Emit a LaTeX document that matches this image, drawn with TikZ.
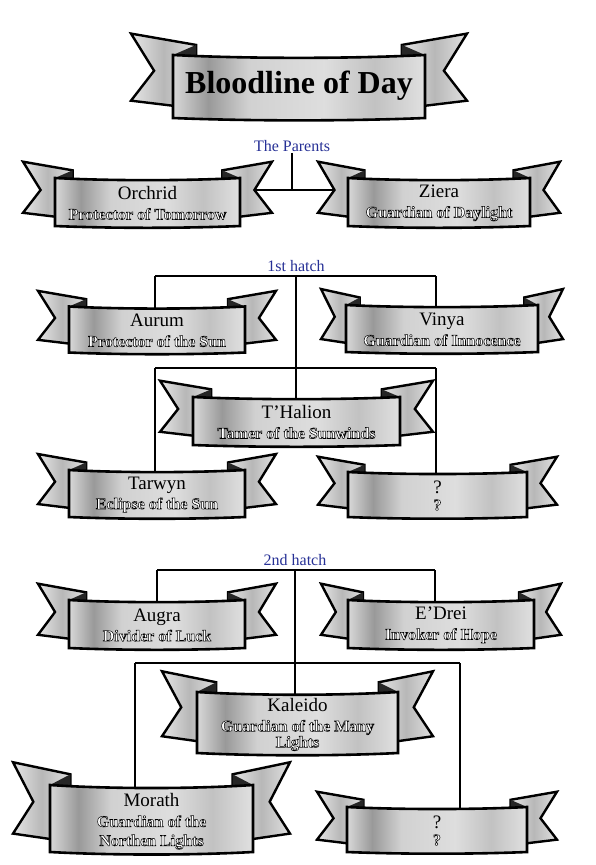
\documentclass[tikz,border=0pt]{standalone}
\usepackage{fontspec}
\setmainfont{Liberation Serif}
\newfontfamily\outlfont{Liberation Serif}[FakeBold=3.2, BoldFeatures={FakeBold=3.2}]
\usetikzlibrary{backgrounds}
\definecolor{hatchblue}{RGB}{38,48,150}
\pgfdeclarehorizontalshading{metal}{100bp}{color(0bp)=(black!15); color(25bp)=(black!15); color(32bp)=(black!40); color(40bp)=(black!18); color(55bp)=(black!13); color(65bp)=(black!24); color(75bp)=(black!12); color(100bp)=(black!12)}
\pgfdeclarehorizontalshading{tailmetal}{100bp}{color(0bp)=(black!10); color(25bp)=(black!10); color(50bp)=(black!28); color(75bp)=(black!12); color(100bp)=(black!12)}
\newcommand\ttl[1]{{\fontsize{32}{34}\selectfont\bfseries #1}}
\newcommand\nm[1]{{\fontsize{19}{21}\selectfont #1}}
\newcommand\subt[1]{{\fontsize{16}{18}\outlfont\bfseries\special{pdf:bcolor [1] [0]}#1\special{pdf:ecolor}}}
\tikzset{
  tail/.style={shading=tailmetal, draw=black, line width=2.4pt, line join=miter},
  fold/.style={fill=black!85},
  bannerrect/.style={shading=metal, draw=black, line width=2.6pt},
  bannerbox/.style={inner sep=0pt, align=center, text=black, font=\fontsize{15}{19}\selectfont},
  hatchlabel/.style={text=hatchblue, font=\fontsize{16}{17}\selectfont, inner sep=1pt},
  conn/.style={draw=black, line width=1.8pt}
}
\newcommand\banner[8][0]{%
 \pgfmathsetmacro\bL{#3-#5}\pgfmathsetmacro\bR{#3+#5}%
 \pgfmathsetmacro\bT{#4-#6}\pgfmathsetmacro\bB{#4+#6}%
 \pgfmathsetmacro\bH{#6}\pgfmathsetmacro\bE{#7}\pgfmathsetmacro\bW{#5}%
 \pgfmathsetmacro\xa{\bL-\bE}\pgfmathsetmacro\xb{\bL-0.45*\bE}\pgfmathsetmacro\xc{\bL+0.55*\bE}%
 \pgfmathsetmacro\xA{\bR+\bE}\pgfmathsetmacro\xB{\bR+0.45*\bE}\pgfmathsetmacro\xC{\bR-0.55*\bE}%
 \pgfmathsetmacro\ya{\bT-0.68*\bH}\pgfmathsetmacro\yb{\bT-0.32*\bH}%
 \pgfmathsetmacro\yc{\bB-0.3*\bH}\pgfmathsetmacro\yd{\bB-0.55*\bH}\pgfmathsetmacro\yn{\bT+0.5*\bH}%
 \pgfmathsetmacro\ys{\bT+0.12*\bH}\pgfmathsetmacro\yS{\bB+0.1*\bH}%
 \pgfmathsetmacro\xs{\bL+0.6*\bW}\pgfmathsetmacro\xS{\bR-0.6*\bW}%
 \pgfmathsetmacro\yf{\bT+3}%
 \path[tail] (\xa,\ya) -- (\xc,\yb) -- (\xc,\yc) -- (\xa,\yd) -- (\xb,\yn) -- cycle;
 \path[tail] (\xA,\ya) -- (\xC,\yb) -- (\xC,\yc) -- (\xA,\yd) -- (\xB,\yn) -- cycle;
 \fill[fold] (\bL,\bT) -- (\xc,\yb) -- (\xc,\yf) -- cycle;
 \fill[fold] (\bR,\bT) -- (\xC,\yb) -- (\xC,\yf) -- cycle;
 \path[bannerrect] (\bL,\bT) .. controls (\xs,\ys) and (\xS,\ys) .. (\bR,\bT) -- (\bR,\bB) .. controls (\xS,\yS) and (\xs,\yS) .. (\bL,\bB) -- cycle;
 \node[bannerbox, minimum width={2*#5}, minimum height={2*#6}] (#2) at (#3,#4) {};
 \node[bannerbox] (#2-t) at ([yshift=-#1pt]#2.center) {#8};
 \coordinate (#2-l) at (\xb,\yn);
 \coordinate (#2-r) at (\xB,\yn);
}
\begin{document}
\begin{tikzpicture}[x=1pt,y=-1pt]
\useasboundingbox (0,0) rectangle (596,865);
% title
\banner[-1]{title}{299}{86.5}{126}{31.5}{42}{\ttl{Bloodline of Day}}
% parents
\node[hatchlabel] (parents) at (292,146) {The Parents};
\banner[1]{orchrid}{147.5}{202}{92.5}{24}{32}{\nm{Orchrid}\\[1pt]\subt{Protector of Tomorrow}}
\banner[1]{ziera}{439}{202}{91}{24}{30}{\nm{Ziera}\\[1pt]\subt{Guardian of Daylight}}
% first hatch
\node[hatchlabel] (hatch1) at (296,266) {1st hatch};
\banner[1]{aurum}{157}{329.5}{88}{23}{31}{\nm{Aurum}\\[1pt]\subt{Protector of the Sun}}
\banner[1]{vinya}{442}{328.5}{96}{23.5}{25}{\nm{Vinya}\\[1pt]\subt{Guardian of Innocence}}
\banner[1]{thalion}{296.5}{421}{103.5}{24}{33}{\nm{T'Halion}\\[1pt]\subt{Tamer of the Sunwinds}}
\banner[1]{tarwyn}{157}{493.5}{88}{23.5}{31}{\nm{Tarwyn}\\[1pt]\subt{Eclipse of the Sun}}
\banner[1]{qa}{437.5}{494.5}{89.5}{22.5}{30}{\nm{?}\\[-2pt]\subt{?}}
% second hatch
\node[hatchlabel] (hatch2) at (295,560) {2nd hatch};
\banner[1]{augra}{157}{624}{88}{24}{31}{\nm{Augra}\\[1pt]\subt{Divider of Luck}}
\banner[1]{edrei}{441}{624}{93}{24}{27}{\nm{E'Drei}\\[1pt]\subt{Invoker of Hope}}
\banner[2]{kaleido}{297.5}{722.5}{100.5}{30.5}{35}{\nm{Kaleido}\\[1pt]\subt{Guardian of the Many}\\[-3pt]\subt{Lights}}
\banner[3]{morath}{151.5}{818.5}{101.5}{33.5}{37}{\nm{Morath}\\[1pt]\subt{Guardian of the}\\\subt{Northen Lights}}
\banner[1]{qb}{437}{829.5}{90}{22.5}{30}{\nm{?}\\[-2pt]\subt{?}}
% connectors
\begin{scope}[on background layer]
\fill[white] (0,0) rectangle (596,865);
\coordinate (pj) at (parents.south |- orchrid-r);
\draw[conn] (parents.south) -- (pj);
\draw[conn] (orchrid-r) -- (ziera-l);
% 1st hatch
\coordinate (h1l) at (155,276); \coordinate (h1r) at (436,276); \coordinate (h1c) at (296,276);
\coordinate (h1bl) at (155,368); \coordinate (h1br) at (436,368); \coordinate (h1bc) at (296,368);
\draw[conn] (h1l) -- (h1r);
\draw[conn] (h1l) -- (h1l |- aurum.center);
\draw[conn] (h1r) -- (h1r |- vinya.center);
\draw[conn] (h1c) -- (h1bc);
\draw[conn] (h1bl) -- (h1br);
\draw[conn] (h1bc) -- (h1bc |- thalion.center);
\draw[conn] (h1bl) -- (h1bl |- tarwyn.center);
\draw[conn] (h1br) -- (h1br |- qa.center);
% 2nd hatch
\coordinate (h2l) at (157,570); \coordinate (h2r) at (435,570); \coordinate (h2c) at (295,570);
\coordinate (h2bl) at (135,663); \coordinate (h2br) at (460,663); \coordinate (h2bc) at (295,663);
\draw[conn] (h2l) -- (h2r);
\draw[conn] (h2l) -- (h2l |- augra.center);
\draw[conn] (h2r) -- (h2r |- edrei.center);
\draw[conn] (h2c) -- (h2bc);
\draw[conn] (h2bl) -- (h2br);
\draw[conn] (h2bc) -- (h2bc |- kaleido.center);
\draw[conn] (h2bl) -- (h2bl |- morath.center);
\draw[conn] (h2br) -- (h2br |- qb.center);
\end{scope}
\end{tikzpicture}
\end{document}
